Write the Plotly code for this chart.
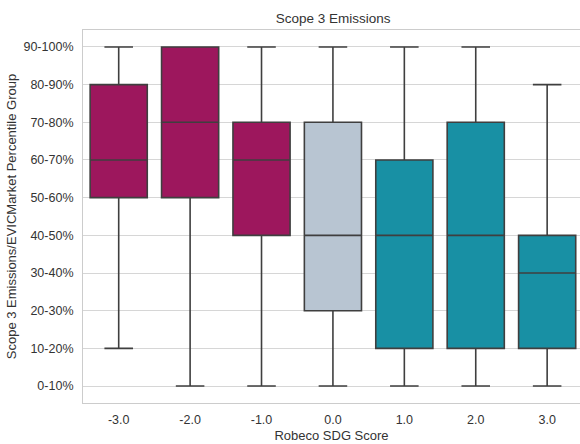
import plotly.graph_objects as go

# SDG score buckets and the percentile-group statistics for each bucket
categories = ["-3.0", "-2.0", "-1.0", "0.0", "1.0", "2.0", "3.0"]
lower_whisker = [1, 0, 0, 0, 0, 0, 0]
q1 = [5, 5, 4, 2, 1, 1, 1]
median = [6, 7, 6, 4, 4, 4, 3]
q3 = [8, 9, 7, 7, 6, 7, 4]
upper_whisker = [9, 9, 9, 9, 9, 9, 8]

percentile_labels = ["0-10%", "10-20%", "20-30%", "30-40%", "40-50%",
                     "50-60%", "60-70%", "70-80%", "80-90%", "90-100%"]

palette = ["#9d175d", "#9d175d", "#9d175d", "#b8c5d2", "#1890a4", "#1890a4", "#1890a4"]

fig = go.Figure()
for i, cat in enumerate(categories):
    fig.add_trace(go.Box(
        x=[i],
        q1=[q1[i]],
        median=[median[i]],
        q3=[q3[i]],
        lowerfence=[lower_whisker[i]],
        upperfence=[upper_whisker[i]],
        width=0.8,
        whiskerwidth=0.5,
        fillcolor=palette[i],
        line=dict(color="#3f3f3f", width=1.6),
        boxpoints=False,
        showlegend=False,
        name=cat,
    ))

font_family = "Liberation Sans, Arial, sans-serif"
text_color = "#333333"
fig.update_layout(
    width=580,
    height=444,
    margin=dict(l=83, r=0, t=30, b=41),
    paper_bgcolor="white",
    plot_bgcolor="white",
    boxmode="overlay",
    font=dict(family=font_family, color=text_color),
    title=dict(text="Scope 3 Emissions", x=0.5743, xanchor="center",
               y=1 - 18 / 444, yanchor="middle",
               font=dict(size=13.5, color=text_color)),
    xaxis=dict(
        range=[-0.5, 6.46],
        tickvals=list(range(len(categories))),
        ticktext=categories,
        showgrid=False,
        zeroline=False,
        showline=True,
        mirror=True,
        linecolor="#cccccc",
        linewidth=1,
        ticks="",
        ticklabelstandoff=5,
        tickfont=dict(size=12.5, color=text_color),
        title=dict(text="Robeco SDG Score", font=dict(size=13, color=text_color), standoff=4),
    ),
    yaxis=dict(
        range=[-0.45, 9.45],
        tickvals=list(range(len(percentile_labels))),
        ticktext=percentile_labels,
        showgrid=True,
        gridcolor="#d6d6d6",
        gridwidth=1,
        zeroline=False,
        showline=True,
        linecolor="#cccccc",
        linewidth=1,
        ticks="",
        ticklabelstandoff=6,
        tickfont=dict(size=12.5, color=text_color),
        title=dict(text="Scope 3 Emissions/EVICMarket Percentile Group",
                   font=dict(size=13, color=text_color), standoff=3),
    ),
)

fig.write_html("out.html")
